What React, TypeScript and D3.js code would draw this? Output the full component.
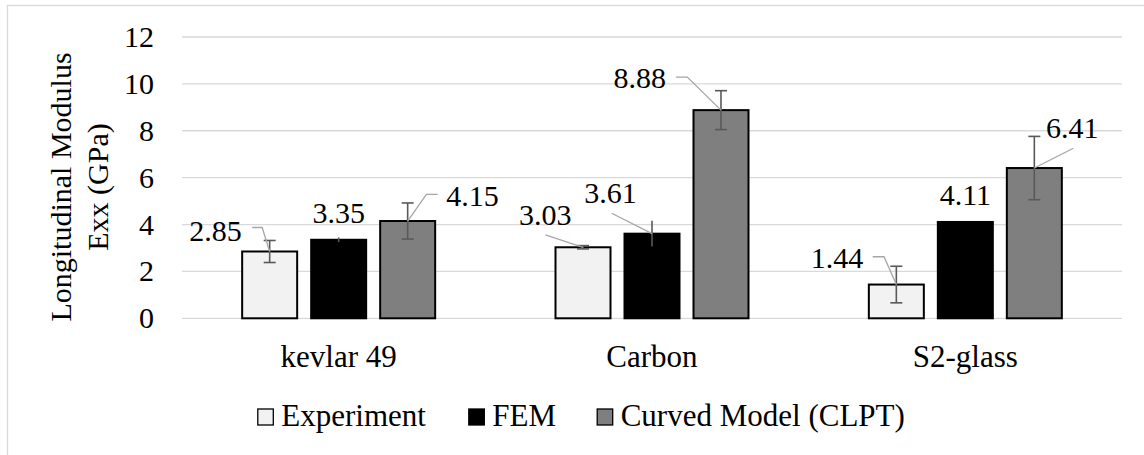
import React from "react";
import * as d3 from "d3";

const categories = ["kevlar 49", "Carbon", "S2-glass"];
const seriesNames = ["Experiment", "FEM", "Curved Model (CLPT)"];
const experiment = [2.85, 3.03, 1.44];
const fem = [3.35, 3.61, 4.11];
const clpt = [4.15, 8.88, 6.41];
const experimentErr = [0.47, 0.07, 0.78];
const femErr = [0.1, 0.55, 0];
const clptErr = [0.77, 0.83, 1.35];
const yTicks = [0, 2, 4, 6, 8, 10, 12];

const seriesValues = [experiment, fem, clpt];
const seriesErrors = [experimentErr, femErr, clptErr];
const seriesFill = ["#f2f2f2", "#000000", "#7f7f7f"];
const seriesCaps = [true, false, true];

// label placement relative to bar top centre: [dx, dy(centre), anchor, leader points]
type LabelPos = { dx: number; dy: number; anchor: string; leader?: [number, number][] };
const labelPos: LabelPos[][] = [
  [
    { dx: -28, dy: -20, anchor: "end", leader: [[-17.5, -24], [-7.5, -24], [0, 0]] },
    { dx: 0, dy: -27, anchor: "middle" },
    { dx: 38.7, dy: -25, anchor: "start", leader: [[30, -26.7], [18.7, -26.7], [0, 0]] },
  ],
  [
    { dx: -11.5, dy: -32, anchor: "end", leader: [[-37.5, -12.3], [0, 0]] },
    { dx: -15.3, dy: -40.4, anchor: "end", leader: [[-40.3, -20.4], [0, 0]] },
    { dx: -55, dy: -32, anchor: "end", leader: [[-45, -33], [-33.7, -33], [0, 0]] },
  ],
  [
    { dx: -33, dy: -26.2, anchor: "end", leader: [[-23.6, -27.8], [-12.3, -27.8], [0, 0]] },
    { dx: 0, dy: -27, anchor: "middle" },
    { dx: 11.7, dy: -39.8, anchor: "start", leader: [[39, -19.8], [0, 0]] },
  ],
];

const SERIF = "Liberation Serif";

function T(props: any) {
  const { children, size, ...rest } = props;
  return (
    <text fontFamily={SERIF} fontSize={size} fill="#000" style={{ fontFamily: `"${SERIF}"` }} {...rest}>
      {children}
    </text>
  );
}

export default function App() {
  const W = 1144;
  const H = 455;
  const left = 182;
  const right = 1122;
  const y = d3.scaleLinear().domain([0, 12]).range([318.3, 37]);
  const x0 = d3.scaleBand<string>().domain(categories).range([left, right]);
  const gw = 193;
  const x1 = d3
    .scaleBand<string>()
    .domain(seriesNames)
    .range([0, gw])
    .paddingInner(14 / 69)
    .paddingOuter(0);
  const bw = x1.bandwidth();
  const line = d3.line();

  const legendX = [257.3, 468.3, 596.7];

  return (
    <svg width={W} height={H} fontFamily={SERIF} style={{ position: "absolute", left: 0, top: 0, background: "#fff" }}>
      <style>{`text { font-family: "Liberation Serif"; }`}</style>
      <rect x={0} y={0} width={W} height={H} fill="#fff" />
      <rect x={7.5} y={5.5} width={1300} height={600} fill="none" stroke="#d9d9d9" strokeWidth={1.3} />
      {yTicks.map((t) => (
        <g key={t}>
          <line x1={left} x2={right} y1={y(t)} y2={y(t)} stroke="#d9d9d9" strokeWidth={1.3} />
          <T x={154} y={y(t) + 10} textAnchor="end" size={30}>
            {t}
          </T>
        </g>
      ))}
      <g transform="translate(71,187) rotate(-90)">
        <T x={0} y={0} textAnchor="middle" size={30}>
          Longitudinal Modulus
        </T>
      </g>
      <g transform="translate(108,187) rotate(-90)">
        <T x={0} y={0} textAnchor="middle" size={30}>
          Exx (GPa)
        </T>
      </g>
      {categories.map((c, ci) => {
        const gx = (x0(c) as number) + x0.bandwidth() / 2 - gw / 2;
        return (
          <g key={c}>
            {seriesNames.map((s, si) => {
              const v = seriesValues[si][ci];
              const e = seriesErrors[si][ci];
              const bx = gx + (x1(s) as number);
              const cx = bx + bw / 2;
              const ty = y(v);
              const caps = seriesCaps[si];
              return (
                <g key={s}>
                  <rect
                    x={bx}
                    y={ty}
                    width={bw}
                    height={y(0) - ty}
                    fill={seriesFill[si]}
                    stroke="#000"
                    strokeWidth={2}
                  />
                  {e > 0 && (
                    <g stroke="#595959" strokeWidth={1.6}>
                      <line x1={cx} x2={cx} y1={y(v + e)} y2={y(v - e)} />
                      {caps && (
                        <>
                          <line x1={cx - 6} x2={cx + 6} y1={y(v + e)} y2={y(v + e)} />
                          <line x1={cx - 6} x2={cx + 6} y1={y(v - e)} y2={y(v - e)} />
                        </>
                      )}
                    </g>
                  )}
                </g>
              );
            })}
            <T x={(x0(c) as number) + x0.bandwidth() / 2} y={367} textAnchor="middle" size={31}>
              {c}
            </T>
          </g>
        );
      })}
      {categories.map((c, ci) => {
        const gx = (x0(c) as number) + x0.bandwidth() / 2 - gw / 2;
        return seriesNames.map((s, si) => {
          const v = seriesValues[si][ci];
          const cx = gx + (x1(s) as number) + bw / 2;
          const ty = y(v);
          const lp = labelPos[ci][si];
          return (
            <g key={c + s}>
              {lp.leader && (
                <path
                  d={line(lp.leader.map(([a, b]) => [cx + a, ty + b])) as string}
                  fill="none"
                  stroke="#a6a6a6"
                  strokeWidth={1.3}
                />
              )}
              <T x={cx + lp.dx} y={ty + lp.dy + 10} textAnchor={lp.anchor} size={30}>
                {v.toFixed(2)}
              </T>
            </g>
          );
        });
      })}
      {seriesNames.map((s, si) => (
        <g key={s}>
          <rect
            x={legendX[si] + 0.5}
            y={409}
            width={15.5}
            height={16}
            fill={seriesFill[si]}
            stroke="#000"
            strokeWidth={1.3}
          />
          <T x={legendX[si] + 24} y={425.5} size={31}>
            {s}
          </T>
        </g>
      ))}
    </svg>
  );
}
